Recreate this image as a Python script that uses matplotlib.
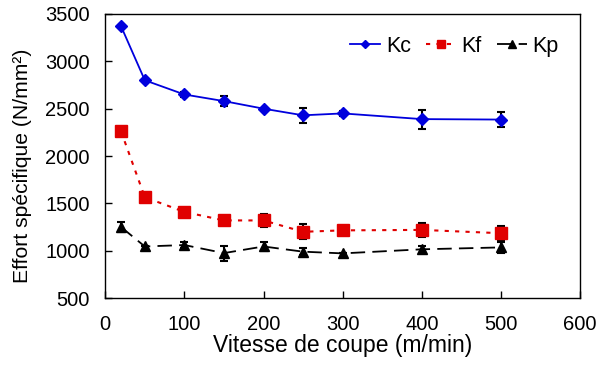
import numpy as np
import matplotlib
matplotlib.use("Agg")
import matplotlib.pyplot as plt

plt.rcParams['font.family'] = ['Liberation Sans', 'DejaVu Sans']

# --- Data ---
vitesse = [20, 50, 100, 150, 200, 250, 300, 400, 500]
kc = [3370, 2800, 2650, 2580, 2500, 2430, 2450, 2390, 2385]
kc_err = [0, 0, 30, 50, 0, 80, 30, 100, 80]
kf = [2260, 1565, 1410, 1320, 1320, 1200, 1215, 1220, 1185]
kf_err = [0, 0, 40, 0, 70, 80, 0, 70, 80]
kp = [1250, 1045, 1060, 975, 1045, 990, 972, 1015, 1035]
kp_err = [50, 0, 30, 80, 50, 40, 0, 40, 60]

fig = plt.figure(figsize=(5.98, 3.68), dpi=100)
ax = fig.add_axes([0.176, 0.19, 0.794, 0.772])

err_kw = dict(ecolor='black', elinewidth=1.5, capsize=3, capthick=1.5, zorder=2)

ax.errorbar(vitesse, kc, yerr=kc_err, fmt='none', **err_kw)
ax.errorbar(vitesse, kf, yerr=kf_err, fmt='none', **err_kw)
ax.errorbar(vitesse, kp, yerr=kp_err, fmt='none', **err_kw)

ax.plot(vitesse, kc, color='#0000dd', linestyle='-', linewidth=1.3,
        marker='D', markersize=6, label='Kc', zorder=3)
ax.plot(vitesse, kf, color='#e00000', linestyle=(0, (2, 3)), linewidth=1.5,
        marker='s', markersize=8, label='Kf', zorder=3)
ax.plot(vitesse, kp, color='black', linestyle=(0, (8, 4)), linewidth=1.3,
        marker='^', markersize=7, label='Kp', zorder=3)

ax.set_xlim(0, 600)
ax.set_ylim(500, 3500)
ax.set_xticks(np.arange(0, 601, 100))
ax.set_yticks(np.arange(500, 3501, 500))
ax.tick_params(direction='in', labelsize=14.5, length=5, width=1)
ax.tick_params(axis='x', pad=12)
ax.tick_params(axis='y', pad=11)
for s in ax.spines.values():
    s.set_linewidth(1)

ax.set_xlabel('Vitesse de coupe (m/min)', fontsize=16.5, labelpad=0)
ax.set_ylabel('Effort spécifique (N/mm²)', fontsize=15.2)
ax.yaxis.set_label_coords(-0.155, 0.465)

leg = ax.legend(loc='upper right', ncol=3, frameon=False, fontsize=15.5,
                handlelength=1.4, handletextpad=0.25, columnspacing=0.7,
                borderaxespad=0.6, markerscale=0.75)

fig.savefig('out.png', dpi=100)
